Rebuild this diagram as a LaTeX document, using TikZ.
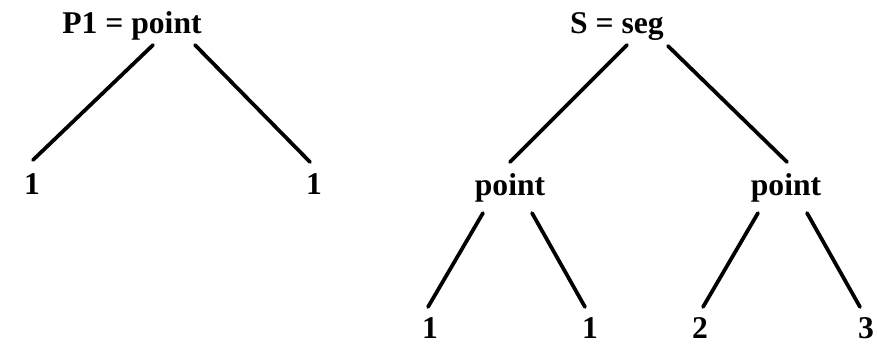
\documentclass[tikz,border=0pt]{standalone}
\usepackage{fontspec}
\setmainfont{Liberation Serif}

\begin{document}
\begin{tikzpicture}[
    x=0.03cm, y=-0.03cm,
    label/.style={
        inner sep=0pt, anchor=base,
        font=\fontsize{27}{32}\selectfont\bfseries
    },
    branch/.style={
        line width=3.2pt, line cap=round, draw=black
    }
]
\useasboundingbox (0,0) rectangle (877,346);

% ===== Left tree =====
\node[label] (rootP) at (132,34)  {P1 = point};
\node[label] (leafA) at (32,195)  {1};
\node[label] (leafB) at (314,195) {1};

% ===== Right tree =====
\node[label] (rootS)  at (617,34)  {S = seg};
\node[label] (pointL) at (510,196) {point};
\node[label] (pointR) at (786,196) {point};
\node[label] (leafC)  at (430,338) {1};
\node[label] (leafD)  at (590,338) {1};
\node[label] (leafE)  at (700,338) {2};
\node[label] (leafF)  at (866,338) {3};

% ===== Branches =====
\draw[branch] ([shift={(21,11)}]rootP.base) -- ([shift={(1,-35)}]leafA.base);
\draw[branch] ([shift={(63,11)}]rootP.base) -- ([shift={(-4,-33)}]leafB.base);

\draw[branch] ([shift={(10,11)}]rootS.base) -- ([shift={(0,-34)}]pointL.base);
\draw[branch] ([shift={(51,12)}]rootS.base) -- ([shift={(1,-34)}]pointR.base);

\draw[branch] ([shift={(-27,17)}]pointL.base) -- ([shift={(-2,-31)}]leafC.base);
\draw[branch] ([shift={(22,17)}]pointL.base)  -- ([shift={(-5,-31)}]leafD.base);
\draw[branch] ([shift={(-28,17)}]pointR.base) -- ([shift={(3,-31)}]leafE.base);
\draw[branch] ([shift={(21,17)}]pointR.base)  -- ([shift={(-6,-31)}]leafF.base);

\end{tikzpicture}
\end{document}
